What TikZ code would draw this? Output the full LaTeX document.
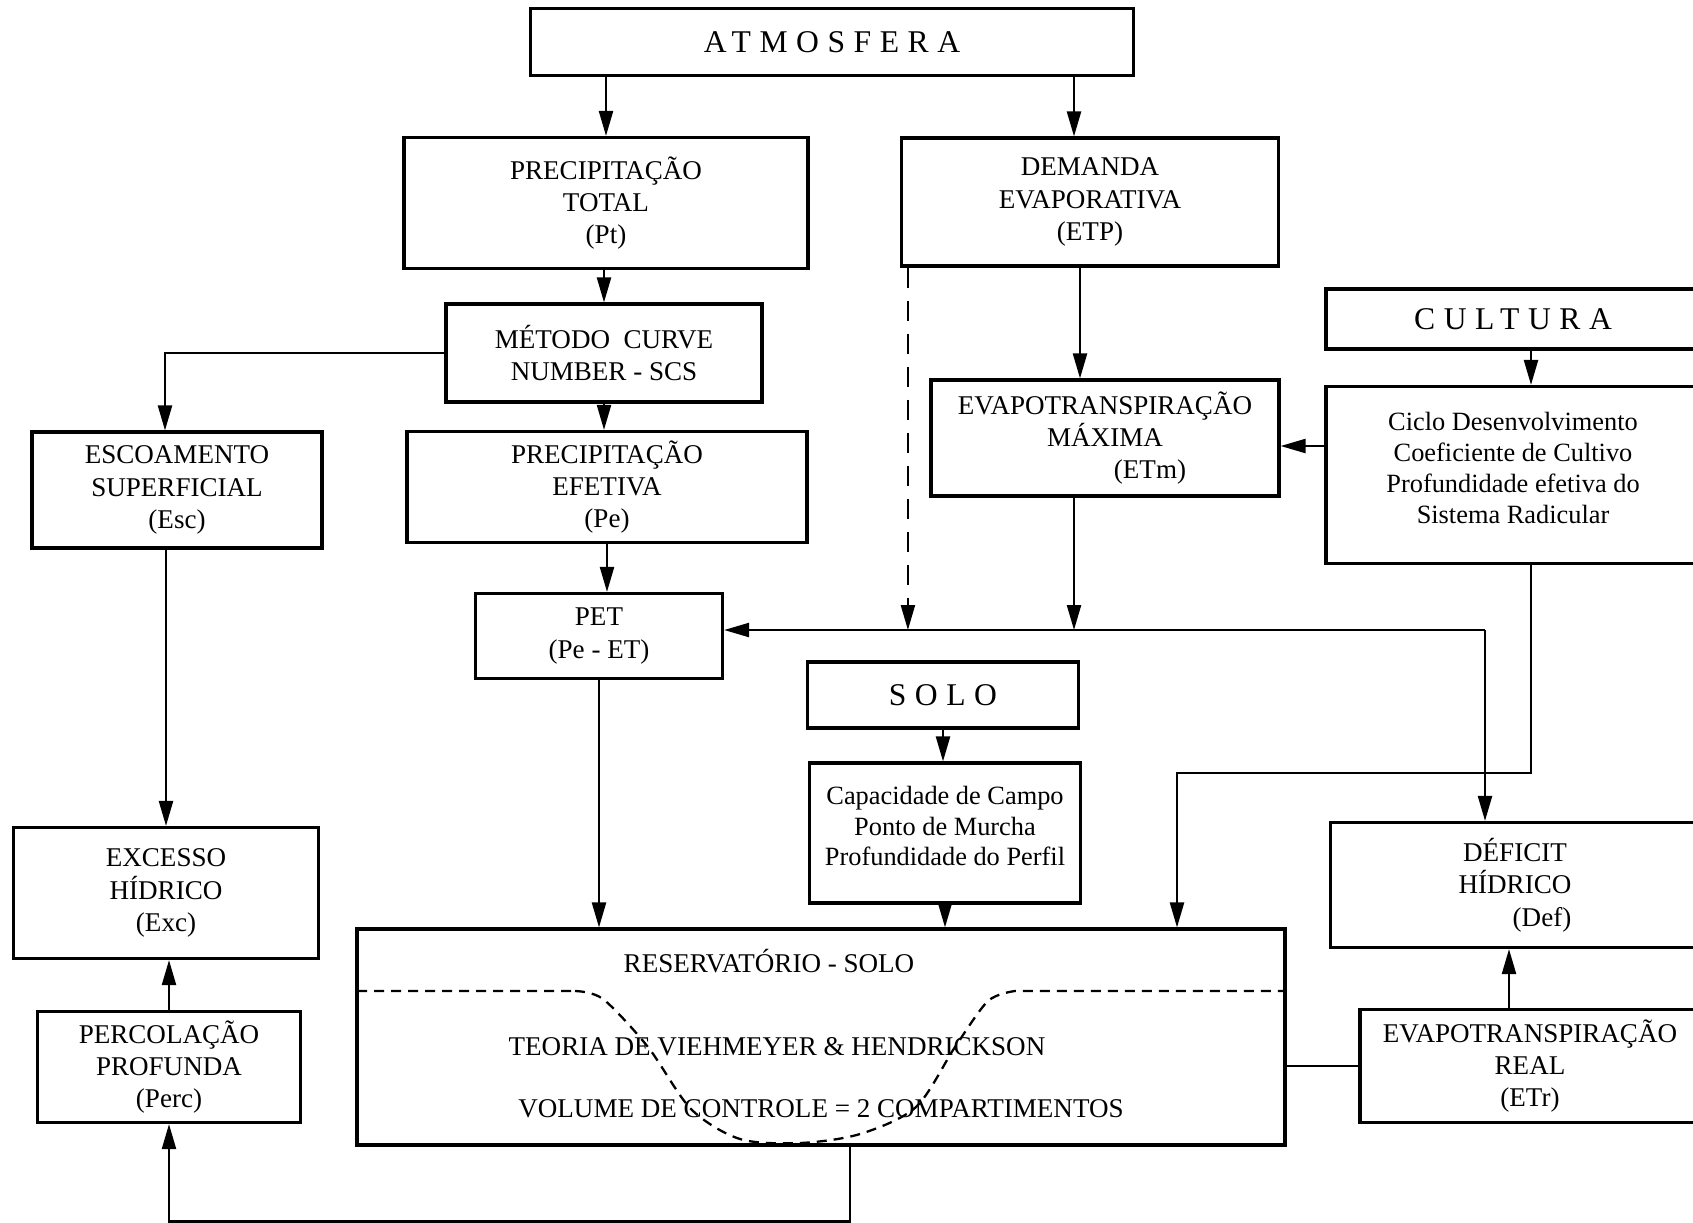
\documentclass[tikz,border=0pt]{standalone}
\usepackage{fontspec}
\setmainfont{Liberation Serif}
\newfontfamily\spacedfont[LetterSpace=27]{Liberation Serif}
\usetikzlibrary{arrows.meta,calc}

\begin{document}
\begin{tikzpicture}[
  x=0.1mm, y=-0.1mm,
  font=\fontsize{7.7}{9.2}\selectfont,
  box/.style={rectangle, draw, line width=0.9pt, align=center, inner sep=0pt},
  title/.style={box, font=\spacedfont\fontsize{9}{11}\selectfont},
  restext/.style={inner sep=0pt},
  arrow/.style={-{Triangle[length=2.5mm,width=1.4mm]}, line width=0.65pt},
  link/.style={line width=0.65pt},
  dasharrow/.style={arrow, dash pattern=on 2mm off 1.3mm},
  resline/.style={line width=0.65pt, dash pattern=on 1mm off 0.7mm},
]
  \useasboundingbox (0,0) rectangle (1693,1222);

  \node[title, minimum width=60.3mm, minimum height=6.7mm] (atm) at (832,42) {ATMOSFERA};
  \node[box, minimum width=40.4mm, minimum height=13.1mm] (pt) at (606,203)
    {PRECIPITAÇÃO\\TOTAL\\(Pt)};
  \node[box, minimum width=37.7mm, minimum height=12.8mm] (etp) at (1090,202)
    {DEMANDA\\EVAPORATIVA\\(ETP)};
  \node[box, minimum width=31.6mm, minimum height=9.8mm] (scs) at (604,353)
    {MÉTODO\enspace CURVE\\NUMBER - SCS};
  \node[box, minimum width=29mm, minimum height=11.6mm] (esc) at (177,490)
    {ESCOAMENTO\\SUPERFICIAL\\(Esc)};
  \node[box, minimum width=40mm, minimum height=11.1mm] (pe) at (607,487)
    {PRECIPITAÇÃO\\EFETIVA\\(Pe)};
  \node[box, minimum width=24.7mm, minimum height=8.5mm] (pet) at (599,636)
    {PET\\(Pe - ET)};
  \node[box, minimum width=34.8mm, minimum height=11.6mm] (etm) at (1105,438)
    {EVAPOTRANSPIRAÇÃO\\MÁXIMA\\\hspace*{9mm}(ETm)};
  \node[title, minimum width=37.4mm, minimum height=6mm] (cult) at (1513,319) {CULTURA};
  \node[box, minimum width=37.4mm, minimum height=17.7mm, font=\fontsize{7.5}{8.9}\selectfont] (ciclo) at (1513,475)
    {Ciclo Desenvolvimento\\Coeficiente de Cultivo\\Profundidade efetiva do\\Sistema Radicular\\[-1.7mm]};
  \node[title, minimum width=27.1mm, minimum height=6.6mm] (solo) at (943,695) {SOLO};
  \node[box, minimum width=27.1mm, minimum height=14mm, font=\fontsize{7.5}{8.7}\selectfont] (cap) at (945,833)
    {Capacidade de Campo\\Ponto de Murcha\\Profundidade do Perfil\\[-1.7mm]};
  \node[box, minimum width=92.8mm, minimum height=21.6mm] (res) at (821,1037) {};
  \node[box, minimum width=30.5mm, minimum height=13.1mm] (exc) at (166,893)
    {EXCESSO\\HÍDRICO\\(Exc)};
  \node[box, minimum width=26.3mm, minimum height=11.1mm] (perc) at (169,1067)
    {PERCOLAÇÃO\\PROFUNDA\\(Perc)};
  \node[box, minimum width=36.9mm, minimum height=12.5mm] (def) at (1515,885)
    {DÉFICIT\\HÍDRICO\\\hspace*{5.4mm}(Def)};
  \node[box, minimum width=34mm, minimum height=11.3mm] (etr) at (1530,1066)
    {EVAPOTRANSPIRAÇÃO\\REAL\\(ETr)};

  % textos do reservatorio
  \node[restext] (restitle) at (769,961) {RESERVATÓRIO - SOLO};
  \node[restext] (teoria) at (777,1047) {TEORIA DE VIEHMEYER \& HENDRICKSON};
  \node[restext] (volume) at (821,1109) {VOLUME DE CONTROLE = 2 COMPARTIMENTOS};
  \draw[resline] (357,991) -- (575,991)
    plot[smooth] coordinates {(575,991) (603,999) (648,1047) (691,1109) (740,1139) (800,1143) (860,1134) (916,1107) (955,1047) (988,1001) (1015,991)}
    -- (1285,991);

  % ligacoes
  \draw[arrow] (pt.north |- atm.south) -- (pt.north);
  \coordinate (etpin) at ($(etp.north)+(-16,0)$);
  \draw[arrow] (etpin |- atm.south) -- (etpin);
  \draw[arrow] (scs.north |- pt.south) -- (scs.north);
  \draw[arrow] (scs.south) -- (scs.south |- pe.north);
  \coordinate (escin) at ($(esc.north)+(-12,0)$);
  \draw[arrow] (scs.west) -| (escin);
  \draw[arrow] (pe.south) -- (pe.south |- pet.north);
  \draw[arrow] (pet.south) -- (pet.south |- res.north);
  \draw[arrow] (exc.north |- esc.south) -- (exc.north);
  \draw[arrow] (perc.north) -- (perc.north |- exc.south);
  \coordinate (resout) at ($(res.south)+(29,0)$);
  \draw[arrow] (resout) -- ++(0,75) -| (perc.south);
  \draw[link] (etr.west) -- (etr.west -| res.east);
  \coordinate (etrout) at ($(etr.north)+(-21,0)$);
  \draw[arrow] (etrout) -- (etrout |- def.south);

  \coordinate (etpout) at ($(etp.south)+(-10,0)$);
  \draw[arrow] (etpout) -- (etpout |- etm.north);
  \coordinate (etmin) at ($(etm.east)+(0,8)$);
  \draw[arrow] (etmin -| ciclo.west) -- (etmin);
  \coordinate (culout) at ($(cult.south)+(18,0)$);
  \draw[arrow] (culout) -- (culout |- ciclo.north);
  \coordinate (cicout) at ($(ciclo.south)+(18,0)$);
  \coordinate (resin) at (1177,773);
  \draw[arrow] (cicout) |- (resin) -- (resin |- res.north);

  \coordinate (bus) at (1485,630);
  \draw[arrow] (bus) -- (bus -| pet.east);
  \draw[arrow] (bus) -- (bus |- def.north);
  \coordinate (etmout) at ($(etm.south)+(-31,0)$);
  \draw[arrow] (etmout) -- (etmout |- bus);
  \coordinate (etpdash) at ($(etp.south west)+(8,0)$);
  \draw[dasharrow] (etpdash) -- (etpdash |- bus);

  \draw[arrow] (solo.south) -- (solo.south |- cap.north);
  \draw[arrow] (cap.south) -- (cap.south |- res.north);

\end{tikzpicture}
\end{document}
